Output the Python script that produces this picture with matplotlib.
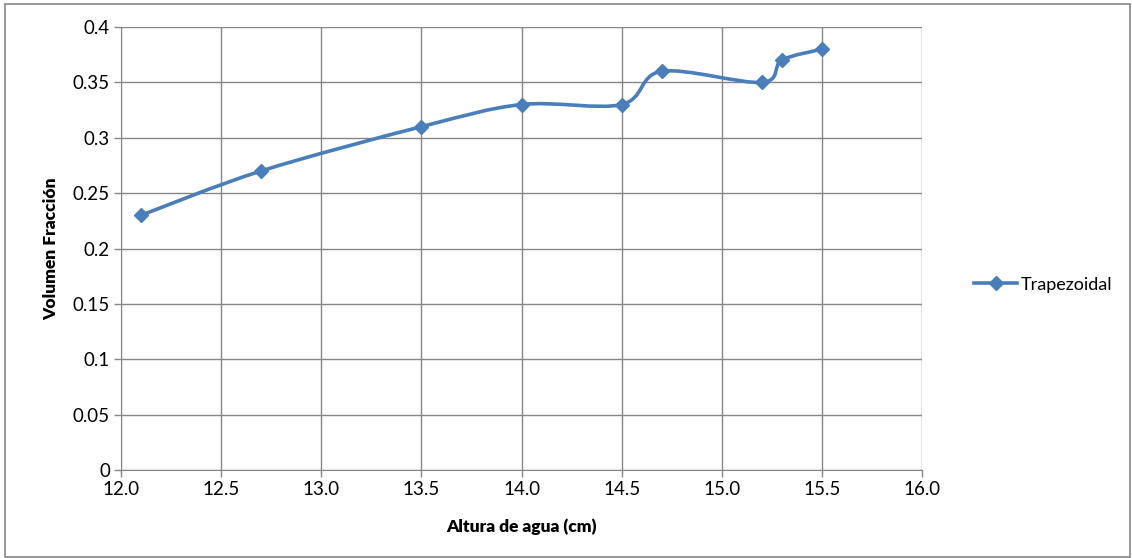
import matplotlib
matplotlib.use("Agg")
import matplotlib.pyplot as plt
from matplotlib.path import Path
from matplotlib.patches import PathPatch, Rectangle
from matplotlib.lines import Line2D

# data
altura = [12.1, 12.7, 13.5, 14.0, 14.5, 14.7, 15.2, 15.3, 15.5]
volumen = [0.23, 0.27, 0.31, 0.33, 0.33, 0.36, 0.35, 0.37, 0.38]
x_ticks = [12.0, 12.5, 13.0, 13.5, 14.0, 14.5, 15.0, 15.5, 16.0]
y_ticks = [0, 0.05, 0.1, 0.15, 0.2, 0.25, 0.3, 0.35, 0.4]
y_labels = ['0', '0.05', '0.1', '0.15', '0.2', '0.25', '0.3', '0.35', '0.4']

BLUE = '#4A7EBB'
GRID = '#868686'

plt.rcParams['font.family'] = ['Lato', 'DejaVu Sans']

fig = plt.figure(figsize=(11.32, 5.58), dpi=100)
ax = fig.add_axes([0.1069, 0.1577, 0.7076, 0.7939])

# smoothed line like Excel (Catmull-Rom as cubic Bezier)
pts = list(zip(altura, volumen))
verts = [pts[0]]
codes = [Path.MOVETO]
n = len(pts)
for i in range(n - 1):
    p0 = pts[i - 1] if i > 0 else pts[i]
    p1 = pts[i]
    p2 = pts[i + 1]
    p3 = pts[i + 2] if i + 2 < n else pts[i + 1]
    c1 = (p1[0] + (p2[0] - p0[0]) / 6, p1[1] + (p2[1] - p0[1]) / 6)
    c2 = (p2[0] - (p3[0] - p1[0]) / 6, p2[1] - (p3[1] - p1[1]) / 6)
    verts += [c1, c2, p2]
    codes += [Path.CURVE4] * 3
ax.add_patch(PathPatch(Path(verts, codes), facecolor='none', edgecolor=BLUE,
                       linewidth=2.6, capstyle='round', joinstyle='round', zorder=3))
ax.plot(altura, volumen, linestyle='none', marker='D', markersize=7.5,
        color=BLUE, zorder=4)

ax.set_xlim(12, 16)
ax.set_ylim(0, 0.4)
ax.set_xticks(x_ticks)
ax.set_xticklabels([f'{t:.1f}' for t in x_ticks])
ax.set_yticks(y_ticks)
ax.set_yticklabels(y_labels)
ax.tick_params(labelsize=13.5, color=GRID, length=5, width=1, direction='out', pad=3)
ax.grid(True, color=GRID, linewidth=1)
ax.set_axisbelow(True)
for s in ax.spines.values():
    s.set_visible(False)
ax.spines['left'].set_visible(True)
ax.spines['bottom'].set_visible(True)
ax.spines['left'].set_color(GRID)
ax.spines['bottom'].set_color(GRID)

ax.set_xlabel('Altura de agua (cm)', fontsize=12.5, fontweight='heavy', labelpad=15)
ax.set_ylabel('Volumen Fracción', fontsize=12.5, fontweight='heavy', labelpad=10)

handle = Line2D([], [], color=BLUE, linewidth=2.6, marker='D', markersize=7.5)
fig.legend(handles=[handle], labels=['Trapezoidal'], loc='center left',
           bbox_to_anchor=(0.846, 0.49), frameon=False, fontsize=13,
           handlelength=2.4, handletextpad=0.2)

# outer chart border
fig.patches.append(Rectangle((0.004, 0.002), 0.994, 0.99, transform=fig.transFigure,
                             fill=False, edgecolor=GRID, linewidth=1.2))

fig.savefig('out.png', dpi=100)
